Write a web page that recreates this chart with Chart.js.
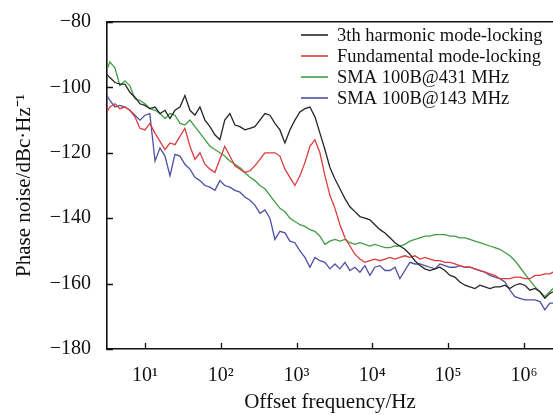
<!DOCTYPE html>
<html>
<head>
<meta charset="utf-8">
<title>Phase noise</title>
<script src="https://cdn.jsdelivr.net/npm/chart.js@4.4.0/dist/chart.umd.min.js"></script>
<style>
  html, body { margin: 0; padding: 0; background: #fff; }
  #wrap { width: 553px; height: 415px; }
</style>
</head>
<body>
<div id="wrap"><canvas id="pnChart" width="553" height="415"></canvas></div>
<script>
// offset frequency grid (Hz) shared by all traces
const freqHz = [3.16, 3.45, 4.02, 4.68, 5.45, 6.34, 7.38, 8.59, 10, 11.6,
  13.6, 15.8, 18.4, 21.4, 24.9, 29, 33.7, 39.3, 45.7, 53.2,
  61.9, 72.1, 83.8, 97.5, 113, 132, 154, 179, 208, 243,
  282, 329, 383, 446, 519, 604, 703, 818, 952, 1109,
  1291, 1502, 1749, 2036, 2370, 2759, 3214, 3739, 4355, 5060,
  5890, 6860, 7980, 9300, 10800, 12600, 14700, 17100, 19900, 23100,
  26900, 31300, 36500, 42500, 49400, 57500, 67000, 78000, 90700, 106000,
  123000, 143000, 167000, 194000, 226000, 263000, 306000, 356000, 414000, 482000,
  561000, 653000, 760000, 886000, 1030000, 1200000, 1400000, 1630000, 1890000, 2200000, 2420000];

// phase noise, dBc/Hz
const harmonic3 = [-96, -97, -98.5, -99, -99, -101.5, -103, -105, -105.5, -106.5,
  -106, -108, -107, -109.5, -107, -106, -102.5, -107, -108.5, -106,
  -110, -112, -114.5, -116, -110, -108, -111.5, -112, -113, -112.5,
  -112, -110, -108, -108.5, -111, -113, -117, -113, -110, -107.5,
  -106.5, -106, -109, -114, -119, -124.5, -128, -131, -134, -136.5,
  -138, -139.5, -140, -140.5, -142, -143.5, -144.5, -146, -147.5, -148.5,
  -149.5, -151, -153, -154.5, -155.5, -156, -155.5, -155, -156, -157.5,
  -158, -159.5, -160.5, -161, -161.5, -160.5, -161, -161.5, -161, -161,
  -160.5, -161.5, -160.5, -160, -160.5, -162, -161.5, -162.5, -164.5, -163, -162.5];

const fundamental = [-107.5, -106, -105, -106.5, -106, -107, -109, -112.5, -113, -111,
  -114, -116.5, -119, -117, -117.5, -115, -112.5, -118, -122, -120,
  -123.5, -125, -126, -122, -118, -121, -124, -125, -126, -125.5,
  -124, -122, -120, -120, -120, -121, -125, -127.5, -130, -127,
  -123, -118, -116, -120, -127, -133, -137, -142, -146, -148.5,
  -151, -152.5, -153.5, -153, -152.5, -153, -152.5, -152, -152.5, -152,
  -151.5, -152, -151.5, -152.5, -152, -152.5, -153, -153, -153.5, -153.5,
  -154, -154.5, -155, -155, -155.5, -156, -156.5, -157, -157.5, -158.5,
  -158.5, -158.5, -158, -158, -158.5, -158.5, -157.5, -157.5, -157, -157, -156.5];

const sma431 = [-94.5, -92.2, -94, -99.5, -98, -99.5, -103.5, -104, -105, -106.5,
  -107, -108, -109.5, -108, -108.5, -111, -111.5, -110, -112, -114,
  -116, -118, -119, -120, -121, -122.5, -123.5, -124.5, -126, -127.5,
  -128.5, -130, -131, -133, -135, -137, -138, -140, -141, -142,
  -142.5, -143.5, -144, -145.5, -148, -147, -146.5, -147, -146.5, -147.5,
  -148, -147.5, -148, -148.5, -148, -148.5, -149, -149, -148.5, -148.5,
  -148, -147, -146.5, -146, -145.5, -145.5, -145, -145, -145, -145.5,
  -145.5, -146, -146, -146.5, -147, -147.5, -148, -148.5, -149, -149.5,
  -150.5, -151.5, -153, -155, -157, -159, -161, -162.5, -164, -162.5, -161.5];

const sma143 = [-102.5, -104, -106, -105.5, -106, -107, -108.5, -110, -108.5, -108,
  -122.5, -118.5, -121, -127, -120.5, -121, -123.5, -125, -127.5, -128.5,
  -130, -130.5, -131.5, -128.5, -130, -130.5, -131.5, -132, -133.5, -134.5,
  -136, -138.5, -137.5, -140, -146.5, -144, -144.5, -147, -147.5, -150,
  -152, -155, -152, -153, -153.5, -155.5, -154, -155.5, -153.5, -156,
  -155, -156.5, -154.5, -157.5, -155, -154.5, -156, -156, -155, -158.5,
  -156, -153.5, -154, -154, -154.5, -155, -155.5, -154, -154.5, -155,
  -155, -154.5, -155, -155, -155.5, -156, -156.5, -157.5, -158, -158.5,
  -159.5, -162, -164, -164.5, -165, -165, -165, -165.5, -168, -166, -166];

const seriesLabels = ['3th harmonic mode-locking', 'Fundamental mode-locking', 'SMA 100B@431 MHz', 'SMA 100B@143 MHz'];
const seriesColors = ['#262626', '#db3b3f', '#3f9e42', '#4c4fa4'];
const xTickValues = [1e1, 1e2, 1e3, 1e4, 1e5, 1e6];
const xTickLabels = ['10\u00b9', '10\u00b2', '10\u00b3', '10\u2074', '10\u2075', '10\u2076'];

const serif = '"Liberation Serif", "Times New Roman", serif';

function toPoints(values) {
  return values.map((v, i) => ({ x: freqHz[i], y: v }));
}

const seriesValues = [harmonic3, fundamental, sma431, sma143];
const datasets = seriesValues.map((vals, k) => ({
  label: seriesLabels[k],
  data: toPoints(vals),
  borderColor: seriesColors[k],
  borderWidth: 1.3,
  pointRadius: 0,
  fill: false,
  tension: 0
}));

// short tick marks pointing into the plot
const inwardTicks = {
  id: 'inwardTicks',
  afterDraw(chart) {
    const { ctx, chartArea, scales } = chart;
    const len = 6;
    ctx.save();
    ctx.strokeStyle = '#111';
    ctx.lineWidth = 1.3;
    ctx.beginPath();
    scales.x.ticks.forEach(t => {
      const px = Math.round(scales.x.getPixelForValue(t.value)) + 0.5;
      ctx.moveTo(px, chartArea.bottom);
      ctx.lineTo(px, chartArea.bottom - len);
    });
    scales.y.ticks.forEach(t => {
      const py = Math.round(scales.y.getPixelForValue(t.value)) + 0.5;
      ctx.moveTo(chartArea.left, py);
      ctx.lineTo(chartArea.left + len, py);
    });
    ctx.stroke();
    ctx.restore();
  }
};

// legend drawn inside the plot, top right corner
const innerLegend = {
  id: 'innerLegend',
  afterDatasetsDraw(chart) {
    const { ctx, chartArea } = chart;
    const x0 = chartArea.left + 194;
    ctx.save();
    ctx.font = '18.5px ' + serif;
    ctx.textBaseline = 'middle';
    ctx.textAlign = 'left';
    chart.data.datasets.forEach((ds, i) => {
      const y = chartArea.top + 13 + i * 21;
      ctx.strokeStyle = ds.borderColor;
      ctx.globalAlpha = 0.8;
      ctx.lineWidth = 2;
      ctx.beginPath();
      ctx.moveTo(x0, y);
      ctx.lineTo(x0 + 27, y);
      ctx.stroke();
      ctx.globalAlpha = 1;
      ctx.fillStyle = '#111';
      ctx.fillText(ds.label, x0 + 36, y + 1);
    });
    ctx.restore();
  }
};

new Chart(document.getElementById('pnChart'), {
  type: 'line',
  data: { datasets },
  plugins: [inwardTicks, innerLegend],
  options: {
    responsive: false,
    devicePixelRatio: 1,
    animation: false,
    layout: { padding: 0 },
    plugins: {
      legend: { display: false },
      tooltip: { enabled: false }
    },
    scales: {
      x: {
        type: 'logarithmic',
        position: 'bottom',
        min: 3.16,
        max: 2.42e6,
        afterBuildTicks(scale) {
          scale.ticks = xTickValues.map(v => ({ value: v }));
        },
        afterFit(scale) {
          scale.height = 66;
          scale.paddingLeft = 0;
          scale.paddingRight = 0;
        },
        ticks: {
          autoSkip: false,
          maxRotation: 0,
          color: '#111',
          font: { family: serif, size: 20 },
          padding: 7,
          callback: (value) => {
            const i = xTickValues.indexOf(value);
            return i >= 0 ? xTickLabels[i] : '';
          }
        },
        grid: { display: false },
        border: { display: true, color: '#111', width: 1.6 },
        title: {
          display: true,
          text: 'Offset frequency/Hz',
          color: '#111',
          font: { family: serif, size: 21 },
          padding: { top: 3, bottom: 0 }
        }
      },
      xTop: {
        type: 'linear',
        position: 'top',
        min: 0,
        max: 1,
        afterFit(scale) {
          scale.height = 22;
          scale.paddingLeft = 0;
          scale.paddingRight = 0;
        },
        ticks: { display: false },
        grid: { display: false },
        border: { display: true, color: '#111', width: 1.6 }
      },
      y: {
        type: 'linear',
        min: -180,
        max: -80,
        afterFit(scale) {
          scale.width = 107;
          scale.paddingTop = 0;
          scale.paddingBottom = 0;
        },
        ticks: {
          stepSize: 20,
          color: '#111',
          font: { family: serif, size: 20 },
          padding: 8,
          callback: (value) => String(value).replace('-', '\u2212')
        },
        grid: { display: false },
        border: { display: true, color: '#111', width: 1.6 },
        title: {
          display: true,
          text: 'Phase noise/dBc\u00b7Hz\u207b\u00b9',
          color: '#111',
          font: { family: serif, size: 21 },
          padding: { top: 12, bottom: 0 }
        }
      }
    }
  }
});
</script>
</body>
</html>
